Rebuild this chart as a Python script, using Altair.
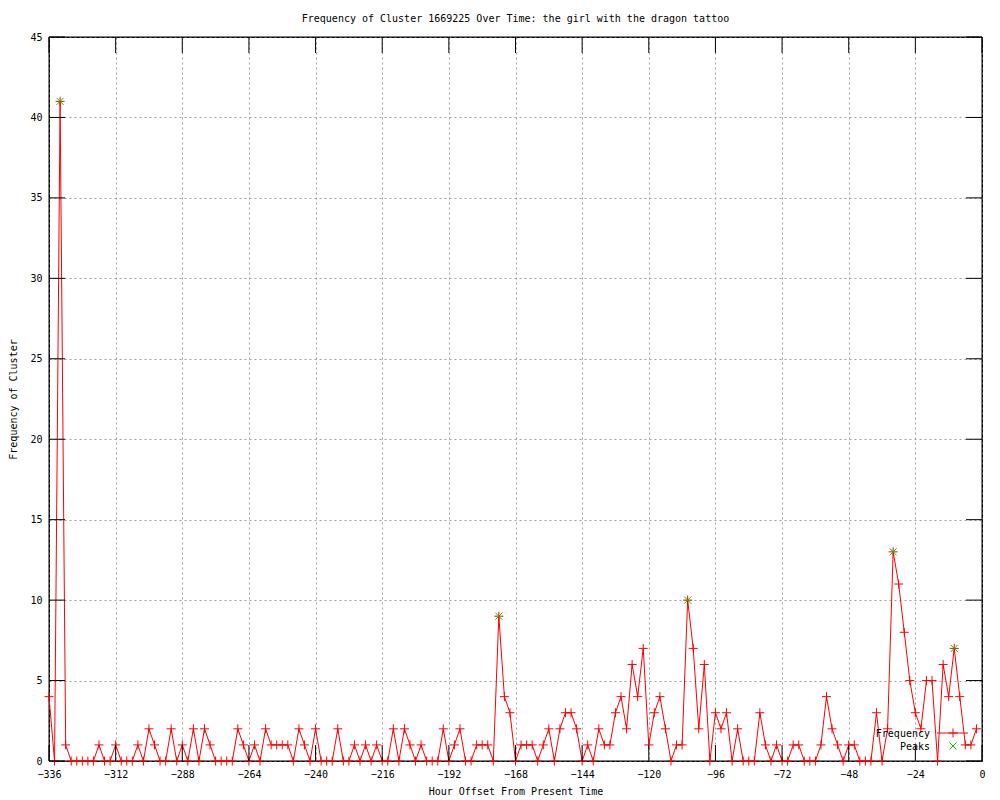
import altair as alt
import pandas as pd

# ---- data ----
hours = list(range(-336, 0, 2))  # hour offsets, every 2 hours from -336 to -2
freq = [
    4, 0, 41, 1, 0, 0, 0, 0, 0, 1,
    0, 0, 1, 0, 0, 0, 1, 0, 2, 1,
    0, 0, 2, 0, 1, 0, 2, 0, 2, 1,
    0, 0, 0, 0, 2, 1, 0, 1, 0, 2,
    1, 1, 1, 1, 0, 2, 1, 0, 2, 0,
    0, 0, 2, 0, 0, 1, 0, 1, 0, 1,
    0, 0, 2, 0, 2, 1, 0, 1, 0, 0,
    0, 2, 0, 1, 2, 0, 0, 1, 1, 1,
    0, 9, 4, 3, 0, 1, 1, 1, 0, 1,
    2, 0, 2, 3, 3, 2, 0, 1, 0, 2,
    1, 1, 3, 4, 2, 6, 4, 7, 1, 3,
    4, 2, 0, 1, 1, 10, 7, 2, 6, 0,
    3, 2, 3, 0, 2, 0, 0, 0, 3, 1,
    0, 1, 0, 0, 1, 1, 0, 0, 0, 1,
    4, 2, 1, 0, 1, 1, 0, 0, 0, 3,
    0, 2, 13, 11, 8, 5, 3, 2, 5, 5,
    0, 6, 4, 7, 4, 1, 1, 2,
]
peak_hours = [-332, -174, -106, -32, -10]
peak_values = [41, 9, 10, 13, 7]
x_ticks = list(range(-336, 1, 24))
y_ticks = list(range(0, 46, 5))
series_names = ["Frequency", "Peaks"]

title_text = "Frequency of Cluster 1669225 Over Time: the girl with the dragon tattoo"
x_title = "Hour Offset From Present Time"
y_title = "Frequency of Cluster"

FONT = "DejaVu Sans Mono"
W, H = 933, 724

df = pd.DataFrame({"hour": hours, "freq": freq})
peaks = pd.DataFrame({"hour": peak_hours, "freq": peak_values})
xt = pd.DataFrame({"hour": x_ticks})
yt = pd.DataFrame({"freq": y_ticks})

xscale = alt.Scale(domain=[-336, 0], nice=False, zero=False)
yscale = alt.Scale(domain=[0, 45], nice=False)

CROSS = "M-1,0H1M0,-1V1"
XSHAPE = "M-1,-1L1,1M1,-1L-1,1"

xaxis = alt.Axis(values=x_ticks, format="d", grid=True, gridColor="#a0a0a0",
                 gridDash=[2, 3], domain=False, ticks=False, labelPadding=8,
                 labelFont=FONT, labelFontSize=10, labelColor="black",
                 title=x_title, titleFont=FONT, titleFontSize=10,
                 titleFontWeight="normal", titlePadding=7, titleColor="black",
                 labelFlush=False)
yaxis = alt.Axis(values=y_ticks, format="d", grid=True, gridColor="#a0a0a0",
                 gridDash=[2, 3], domain=False, ticks=False, labelPadding=7,
                 labelFont=FONT, labelFontSize=10, labelColor="black",
                 title=y_title, titleFont=FONT, titleFontSize=10,
                 titleFontWeight="normal", titlePadding=11, titleColor="black",
                 labelFlush=False)

X = alt.X("hour:Q", scale=xscale, axis=xaxis)
Y = alt.Y("freq:Q", scale=yscale, axis=yaxis)

line = alt.Chart(df).mark_line(color="red", strokeWidth=1).encode(x=X, y=Y)
pts = alt.Chart(df).mark_point(shape=CROSS, filled=False, color="red",
                               strokeWidth=1, size=81, opacity=1).encode(x=X, y=Y)
pk = alt.Chart(peaks).mark_point(shape=XSHAPE, filled=False, color="#00c000",
                                 strokeWidth=1, size=49, opacity=1).encode(x=X, y=Y)

TL = 16
xt_bot = alt.Chart(xt).mark_rule(color="black", strokeWidth=1).encode(
    x=X, y=alt.value(H), y2=alt.value(H - TL))
xt_top = alt.Chart(xt).mark_rule(color="black", strokeWidth=1).encode(
    x=X, y=alt.value(0), y2=alt.value(TL))
yt_left = alt.Chart(yt).mark_rule(color="black", strokeWidth=1).encode(
    y=Y, x=alt.value(0), x2=alt.value(TL))
yt_right = alt.Chart(yt).mark_rule(color="black", strokeWidth=1).encode(
    y=Y, x=alt.value(W - TL), x2=alt.value(W))

# plot frame (drawn on top of the dashed grid)
frame_df = pd.DataFrame({"label": [""]})
frame = alt.Chart(frame_df).mark_rect(fillOpacity=0, stroke="black", strokeWidth=1).encode(
    x=alt.value(0), x2=alt.value(W), y=alt.value(0), y2=alt.value(H))

# legend (gnuplot style key, bottom right)
leg1 = pd.DataFrame({"label": [series_names[0]]})
leg2 = pd.DataFrame({"label": [series_names[1]]})
LX, LY1, LY2 = 881, 697, 710
t1 = alt.Chart(leg1).mark_text(align="right", baseline="middle", font=FONT,
                               fontSize=10, color="black").encode(
    text="label:N", x=alt.value(LX), y=alt.value(LY1))
t2 = alt.Chart(leg2).mark_text(align="right", baseline="middle", font=FONT,
                               fontSize=10, color="black").encode(
    text="label:N", x=alt.value(LX), y=alt.value(LY2))
s1 = alt.Chart(leg1).mark_rule(color="red", strokeWidth=1).encode(
    x=alt.value(888), x2=alt.value(919), y=alt.value(LY1 - 1))
s1p = alt.Chart(leg1).mark_point(shape=CROSS, filled=False, color="red",
                                 strokeWidth=1, size=81, opacity=1).encode(
    x=alt.value(904), y=alt.value(LY1 - 1))
s2p = alt.Chart(leg2).mark_point(shape=XSHAPE, filled=False, color="#00c000",
                                 strokeWidth=1, size=49, opacity=1).encode(
    x=alt.value(904), y=alt.value(LY2 - 1))

chart = alt.layer(
    frame, line, pts, pk, xt_bot, xt_top, yt_left, yt_right, t1, t2, s1, s1p, s2p
).properties(
    width=W, height=H,
    title=alt.TitleParams(title_text, font=FONT, fontSize=10, fontWeight="normal",
                          color="black", anchor="middle", offset=8),
    autosize=alt.AutoSizeParams(type="none"),
    padding={"left": 41, "top": 29, "right": 10, "bottom": 37},
    background="white",
).configure_view(stroke="black", strokeWidth=1)

chart.save("out.html", embed_options={"renderer": "svg", "actions": False})
